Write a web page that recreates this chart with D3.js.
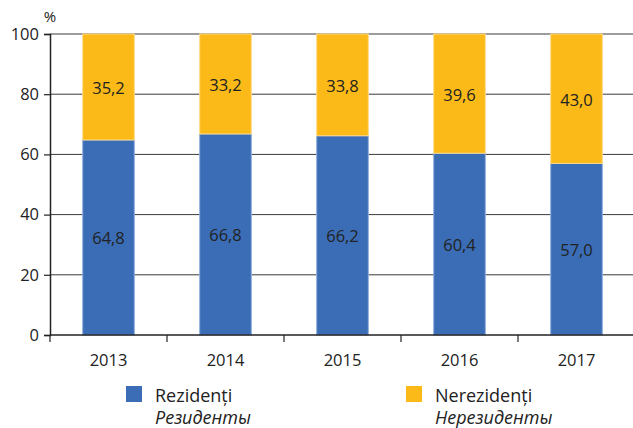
<!DOCTYPE html>
<html><head><meta charset="utf-8">
<script src="https://cdn.jsdelivr.net/npm/d3@7"></script>
<style>body{margin:0;background:#fff;}svg{display:block;font-family:"Open Sans",sans-serif;}</style>
</head><body>
<svg id="c" width="633" height="428"></svg>
<script>
const years = ["2013","2014","2015","2016","2017"];
const residents = [64.8, 66.8, 66.2, 60.4, 57.0];
const nonResidents = [35.2, 33.2, 33.8, 39.6, 43.0];
const yTicks = [0,20,40,60,80,100];
const seriesNames = ["Rezidenți","Nerezidenți"];
const seriesNamesRu = ["Резиденты","Нерезиденты"];
const colors = ["#3A6DB6","#FBBA17"];
const edgeColors = ["#8FB0DE","#FDDA8A"];

const svg = d3.select("#c");
const L = 50, R = 635, T = 34, B = 335;
const x = d3.scaleBand().domain(years).range([L, R]).paddingInner(0.55).paddingOuter(0.275);
const y = d3.scaleLinear().domain([0,100]).range([B, T]);
const fmt = v => v.toFixed(1).replace(".", ",");

svg.append("g").selectAll("line").data(yTicks.filter(d=>d>0)).join("line")
  .attr("x1", L).attr("x2", 633).attr("y1", d=>y(d)).attr("y2", d=>y(d))
  .attr("stroke", "#3a3a3a").attr("stroke-width", 1);

const stack = years.map((yr,i)=>({yr, parts:[[0,residents[i]],[residents[i],residents[i]+nonResidents[i]]], vals:[residents[i],nonResidents[i]]}));
const g = svg.append("g");
stack.forEach(s=>{
  s.parts.forEach((p,k)=>{
    g.append("rect").attr("x", x(s.yr)+0.5).attr("width", x.bandwidth()-1)
      .attr("y", y(Math.min(p[1],100))).attr("height", y(p[0])-y(Math.min(p[1],100)))
      .attr("fill", colors[k]).attr("stroke", edgeColors[k]).attr("stroke-width", 1);
    g.append("text").attr("x", x(s.yr)+x.bandwidth()/2).attr("y", y((p[0]+Math.min(p[1],100))/2)+7)
      .attr("text-anchor","middle").attr("font-size",16.5).attr("fill","#222").text(fmt(s.vals[k]));
  });
});

const ya = svg.append("g").attr("transform",`translate(${L},0)`)
  .call(d3.axisLeft(y).tickValues(yTicks).tickSize(6).tickPadding(5));
ya.select(".domain").attr("stroke","#222").attr("stroke-width",1.5);
ya.selectAll(".tick line").attr("stroke","#222").attr("stroke-width",1.2);
ya.selectAll("text").attr("font-size",16.5).attr("fill","#222").attr("font-family","Open Sans");

const xa = svg.append("g").attr("transform",`translate(0,${B})`);
xa.append("line").attr("x1",L).attr("x2",633).attr("y1",0).attr("y2",0).attr("stroke","#222").attr("stroke-width",1.5);
const bounds = years.map(yr=>x(yr)-x.step()*x.paddingInner()/2);
xa.selectAll("line.tk").data(bounds).join("line").attr("class","tk")
  .attr("x1",d=>d).attr("x2",d=>d).attr("y1",0).attr("y2",7).attr("stroke","#222").attr("stroke-width",1.2);
xa.selectAll("text").data(years).join("text")
  .attr("x",d=>x(d)+x.bandwidth()/2).attr("y",31).attr("text-anchor","middle")
  .attr("font-size",16.5).attr("fill","#222").text(d=>d);

svg.append("text").attr("x",L).attr("y",22).attr("text-anchor","middle").attr("font-size",15).attr("fill","#222").text("%");

const legX = [126, 406];
seriesNames.forEach((n,k)=>{
  const lg = svg.append("g");
  lg.append("rect").attr("x",legX[k]).attr("y",386).attr("width",16).attr("height",16).attr("fill",colors[k]);
  lg.append("text").attr("x",legX[k]+29).attr("y",402).attr("font-size",18).attr("fill","#222").text(n);
  lg.append("text").attr("x",legX[k]+29).attr("y",424).attr("font-size",18).attr("font-style","italic").attr("fill","#222").text(seriesNamesRu[k]);
});
</script>
</body></html>
